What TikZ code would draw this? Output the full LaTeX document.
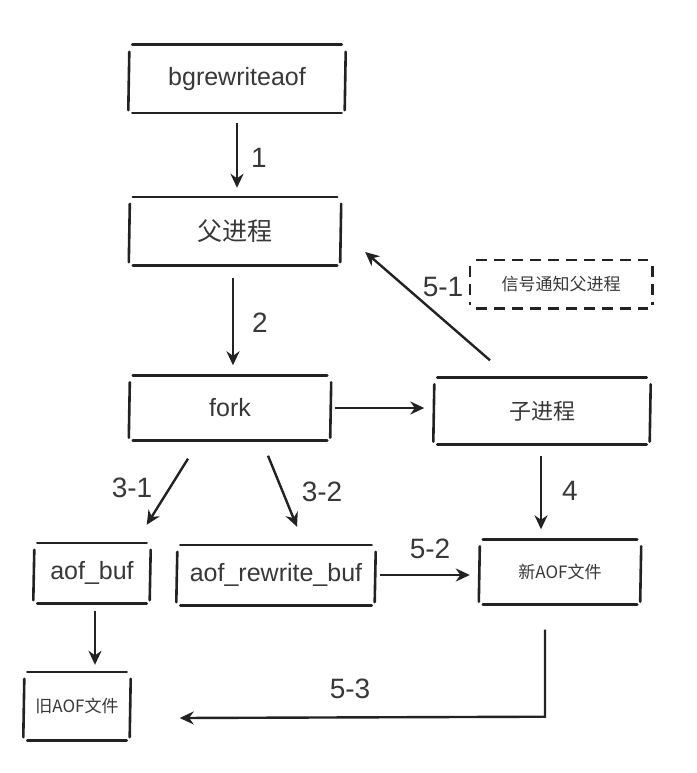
\documentclass[tikz,border=0pt]{standalone}
\usepackage{fontspec}
\setmainfont{Liberation Sans}
\newfontfamily\cjk{Noto Sans CJK SC}
\usetikzlibrary{calc,arrows.meta}
\definecolor{ink}{HTML}{222222}
\definecolor{txt}{HTML}{383838}
\begin{document}
\begin{tikzpicture}[x=1pt,y=-1pt,
  box/.style={inner sep=0pt, text=txt},
  sk/.style={draw=ink, line width=2.6pt, line cap=round},
  skd/.style={draw=ink, line width=2.6pt, dash pattern=on 11pt off 7pt},
  arr/.style={draw=ink, line width=2.4pt, -{Stealth[length=14pt,width=13pt]}},
  lab/.style={text=txt, font=\fontsize{28}{30}\selectfont, inner sep=0pt},
  big/.style={font=\fontsize{25}{27}\selectfont},
  cn/.style={font=\cjk\fontsize{22}{24}\selectfont},
  cns/.style={font=\cjk\fontsize{17}{19}\selectfont}
]
\useasboundingbox (0,0) rectangle (696,773);
\fill[white] (0,0) rectangle (696,773);

\node[box,big,minimum width=215pt,minimum height=68pt] (bg) at (237,79) {bgrewriteaof};
\node[box,cn,font=\cjk\fontsize{25}{27}\selectfont,minimum width=210pt,minimum height=68pt] (par) at (235,231) {父进程};
\node[box,cns,minimum width=182pt,minimum height=48pt] (sig) at (561,284) {信号通知父进程};
\node[box,big,minimum width=200pt,minimum height=65pt] (fork) at (230,408) {fork};
\node[box,cn,minimum width=215pt,minimum height=67pt] (child) at (542,411) {子进程};
\node[box,big,minimum width=115pt,minimum height=60pt] (abuf) at (92,573) {aof\_buf};
\node[box,big,minimum width=197pt,minimum height=60pt] (rbuf) at (276,575) {aof\_rewrite\_buf};
\node[box,cns,minimum width=160pt,minimum height=65pt] (newf) at (560,572) {新AOF文件};
\node[box,cns,minimum width=105pt,minimum height=68pt] (oldf) at (77,706) {旧AOF文件};

\foreach \n in {bg,par,fork,child,abuf,rbuf,newf,oldf}{
  \draw[sk] ($(\n.north west)+(3,0)$) -- ($(\n.north east)+(-3,0)$);
  \draw[sk] ($(\n.south west)+(3,0)$) -- ($(\n.south east)+(-3,0)$);
  \draw[sk] ($(\n.north west)+(0,7)$) -- ($(\n.south west)+(-1,-3)$);
  \draw[sk] ($(\n.north east)+(1,7)$) -- ($(\n.south east)+(0,-3)$);
}
\draw[skd] ($(sig.north west)+(6,0)$) -- ($(sig.north east)+(-4,0)$);
\draw[skd] ($(sig.south west)+(6,0)$) -- ($(sig.south east)+(-4,0)$);
\draw[skd] ($(sig.north west)+(0,6)$) -- ($(sig.south west)+(0,-3)$);
\draw[skd] ($(sig.north east)+(0,6)$) -- ($(sig.south east)+(0,-3)$);

% connectors
\draw[arr] ($(bg.south)+(0,10)$) -- ($(par.north)+(2,-9)$);
\node[lab] (l1) at (259,158) {1};
\draw[arr] ($(par.south)+(-2,13)$) -- ($(fork.north)+(3,-10)$);
\node[lab] (l2) at (260,323) {2};
\draw[arr] ($(child.north)+(-52,-17)$) -- ($(par.east)+(25,21)$);
\node[lab] (l51) at (443,287) {5-1};
\draw[arr] ($(fork.east)+(5,0)$) -- ($(child.west)+(-10,-3)$);
\draw[arr] ($(fork.south)+(-42,18)$) -- ($(abuf.north east)+(-3,-18)$);
\node[lab] (l31) at (132,488) {3-1};
\draw[arr] ($(fork.south)+(38,15)$) -- ($(rbuf.north)+(21,-18)$);
\node[lab] (l32) at (322,492) {3-2};
\draw[arr] ($(child.south)+(-1,11)$) -- ($(newf.north)+(-19,-10)$);
\node[lab] (l4) at (570,491) {4};
\draw[arr] ($(rbuf.east)+(5,0)$) -- ($(newf.west)+(-10,3)$);
\node[lab] (l52) at (430,549) {5-2};
\draw[arr] ($(abuf.south)+(3,8)$) -- ($(oldf.north)+(18,-7)$);
\coordinate (c53) at ($(newf.south)+(-15,112)$);
\draw[arr] ($(newf.south)+(-15,25)$) -- (c53) -- ($(oldf.east)+(50,12)$);
\node[lab] (l53) at (350,689) {5-3};
\end{tikzpicture}
\end{document}
